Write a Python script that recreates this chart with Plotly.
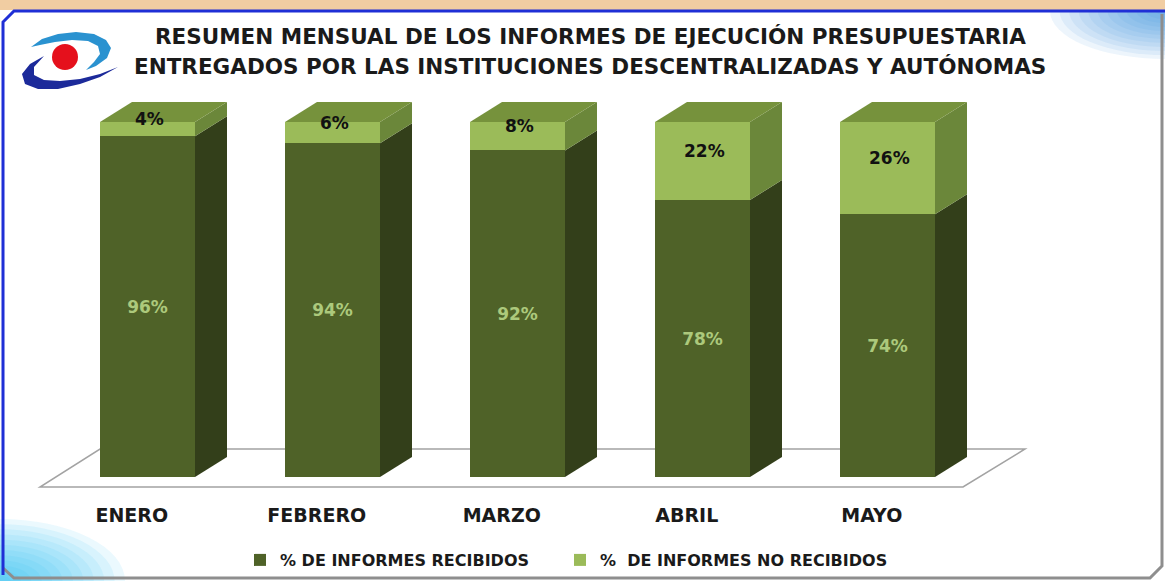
import plotly.graph_objects as go

# ---------------- data ----------------
categories = ["ENERO", "FEBRERO", "MARZO", "ABRIL", "MAYO"]
recibidos = [96, 94, 92, 78, 74]
no_recibidos = [4, 6, 8, 22, 26]
series_names = ["% DE INFORMES RECIBIDOS", "%\u00a0 DE INFORMES NO RECIBIDOS"]
title_lines = ["RESUMEN MENSUAL DE LOS INFORMES DE EJECUCIÓN PRESUPUESTARIA",
               "ENTREGADOS POR LAS INSTITUCIONES DESCENTRALIZADAS Y AUTÓNOMAS"]

# ---------------- geometry / style ----------------
W_PX, H_PX = 1165, 581
PLOT_B = 500            # pixel y of plot-area bottom
CAT_PX = 185.0          # px per category
X0_PX = 147.5           # px of first bar centre
BASE_PX = 477.0         # px of value 0
PX_PER_UNIT = 3.55      # px per percentage point
BAR_W = 95 / CAT_PX
DX = 32 / CAT_PX
DY = 20 / PX_PER_UNIT

FONT = "DejaVu Sans"
DARK_FRONT, DARK_SIDE = "#4f6228", "#333f1a"
LIGHT_FRONT, LIGHT_SIDE, TOP_FACE = "#9bbb59", "#6b873a", "#76923c"

xs = list(range(len(categories)))


def px(x):
    return x / W_PX


def py(y):
    return 1 - y / PLOT_B


def path(points, close=True):
    s = "M " + " L ".join(f"{px(a):.5f},{py(b):.5f}" for a, b in points)
    return s + (" Z" if close else "")


fig = go.Figure()

fig.add_trace(go.Bar(
    x=xs, y=recibidos, width=BAR_W, name=series_names[0], legend="legend",
    marker=dict(color=DARK_FRONT, line=dict(width=0)),
    text=[f"{v}%" for v in recibidos], textposition="inside",
    insidetextanchor="middle", textangle=0, constraintext="none",
    textfont=dict(family=FONT, size=17, color="#acc97c", weight="bold"),
    hoverinfo="skip"))
fig.add_trace(go.Bar(
    x=xs, y=no_recibidos, width=BAR_W, name=series_names[1], legend="legend2",
    marker=dict(color=LIGHT_FRONT, line=dict(width=0)),
    hoverinfo="skip"))

# 3D side / top faces derived from the data
for i, (r, n) in enumerate(zip(recibidos, no_recibidos)):
    xl, xr = xs[i] - BAR_W / 2, xs[i] + BAR_W / 2
    t = r + n
    for (y0, y1, col) in [(0, r, DARK_SIDE), (r, t, LIGHT_SIDE)]:
        fig.add_trace(go.Scatter(
            x=[xr, xr + DX, xr + DX, xr, xr],
            y=[y0, y0 + DY, y1 + DY, y1, y0],
            fill="toself", fillcolor=col, mode="none",
            showlegend=False, hoverinfo="skip"))
    fig.add_trace(go.Scatter(
        x=[xl, xr, xr + DX, xl + DX, xl],
        y=[t, t, t + DY, t + DY, t],
        fill="toself", fillcolor=TOP_FACE, mode="none",
        showlegend=False, hoverinfo="skip"))

annotations = []
for i, (r, n) in enumerate(zip(recibidos, no_recibidos)):
    annotations.append(dict(
        x=xs[i], y=r + n / 2, xref="x", yref="y", text=f"{n}%",
        showarrow=False, yshift=10, xshift=2,
        font=dict(family=FONT, size=17, color="#111111", weight="bold")))

for k, (line, ypx) in enumerate(zip(title_lines, [37, 66])):
    annotations.append(dict(
        x=px(590), y=py(ypx), xref="paper", yref="paper", text=line,
        showarrow=False, xanchor="center", yanchor="middle",
        font=dict(family=FONT, size=21.5, color="#1a1a1a", weight="bold")))

shapes = []
# corner glows (soft, many faint layers)
n_glow = 12
for k in range(n_glow):
    f = 1 - k / n_glow
    rx, ry = 125 * f, 62 * f
    shapes.append(dict(type="circle", xref="paper", yref="paper",
                       x0=px(-rx), x1=px(rx), y0=py(H_PX - ry), y1=py(H_PX + ry),
                       fillcolor="#22c0f0", opacity=0.09, line=dict(width=0), layer="below"))
    rx2, ry2 = 115 * f, 48 * f
    shapes.append(dict(type="circle", xref="paper", yref="paper",
                       x0=px(W_PX - rx2), x1=px(W_PX + rx2), y0=py(11 - ry2), y1=py(11 + ry2),
                       fillcolor="#3b90dc", opacity=0.09, line=dict(width=0), layer="below"))
# beige strip on top
shapes.append(dict(type="rect", xref="paper", yref="paper",
                   x0=px(0), x1=px(W_PX), y0=py(0), y1=py(10),
                   fillcolor="#f1cda2", line=dict(width=0), layer="below"))
# floor
shapes.append(dict(type="path", xref="paper", yref="paper",
                   path=path([(40, 487), (963, 487), (1025, 449), (100, 449)]),
                   line=dict(color="#a3a3a3", width=1.5), fillcolor="rgba(255,255,255,0)",
                   layer="below"))
# panel border: gray bottom/right, blue top/left
shapes.append(dict(type="path", xref="paper", yref="paper",
                   path=path([(1162, 14), (1162, 566), (1150, 578), (14, 578), (3, 568)], close=False),
                   line=dict(color="#8e8e8e", width=3)))
shapes.append(dict(type="path", xref="paper", yref="paper",
                   path=path([(3, 575), (3, 22), (14, 11), (1165, 11)], close=False),
                   line=dict(color="#1f2fd6", width=3)))
# logo
shapes.append(dict(type="path", xref="paper", yref="paper",
                   path=path([(31, 47), (42, 39), (58, 34), (76, 32), (94, 34), (106, 40), (111, 48),
                              (107, 58), (96, 66), (86, 70), (94, 62), (100, 54), (98, 46),
                              (88, 41), (72, 40), (55, 42), (40, 45)]),
                   fillcolor="#2a92d0", line=dict(width=0)))
shapes.append(dict(type="path", xref="paper", yref="paper",
                   path=path([(44, 56), (30, 64), (22, 74), (25, 84), (38, 89), (58, 89), (80, 84),
                              (100, 77), (118, 67), (100, 74), (80, 79), (60, 81), (44, 80),
                              (34, 75), (34, 67)]),
                   fillcolor="#1c2a9a", line=dict(width=0)))
shapes.append(dict(type="circle", xref="paper", yref="paper",
                   x0=px(52), x1=px(78), y0=py(44), y1=py(70),
                   fillcolor="#e5101c", line=dict(width=0)))

legend_style = dict(orientation="h", y=py(560), xanchor="left", yanchor="middle",
                    font=dict(family=FONT, size=16, color="#1a1a1a", weight="bold"),
                    bgcolor="rgba(0,0,0,0)")

fig.update_layout(
    width=W_PX, height=H_PX,
    margin=dict(l=0, r=0, t=0, b=H_PX - PLOT_B, pad=0),
    barmode="stack", bargap=0,
    paper_bgcolor="white", plot_bgcolor="rgba(0,0,0,0)",
    showlegend=True,
    legend=dict(x=px(240), **legend_style),
    legend2=dict(x=px(560), **legend_style),
    xaxis=dict(range=[-X0_PX / CAT_PX, (W_PX - X0_PX) / CAT_PX],
               tickvals=[x - 0.085 for x in xs], ticktext=categories, ticks="",
               ticklabelstandoff=2,
               showgrid=False, zeroline=False, showline=False, fixedrange=True,
               tickfont=dict(family=FONT, size=19, color="#1a1a1a", weight="bold")),
    yaxis=dict(range=[(BASE_PX - PLOT_B) / PX_PER_UNIT, BASE_PX / PX_PER_UNIT],
               visible=False, fixedrange=True),
    annotations=annotations, shapes=shapes,
)

fig.write_html("out.html", config={"displayModeBar": False},
               post_script="document.body.style.margin='0';document.body.style.overflow='hidden';")
